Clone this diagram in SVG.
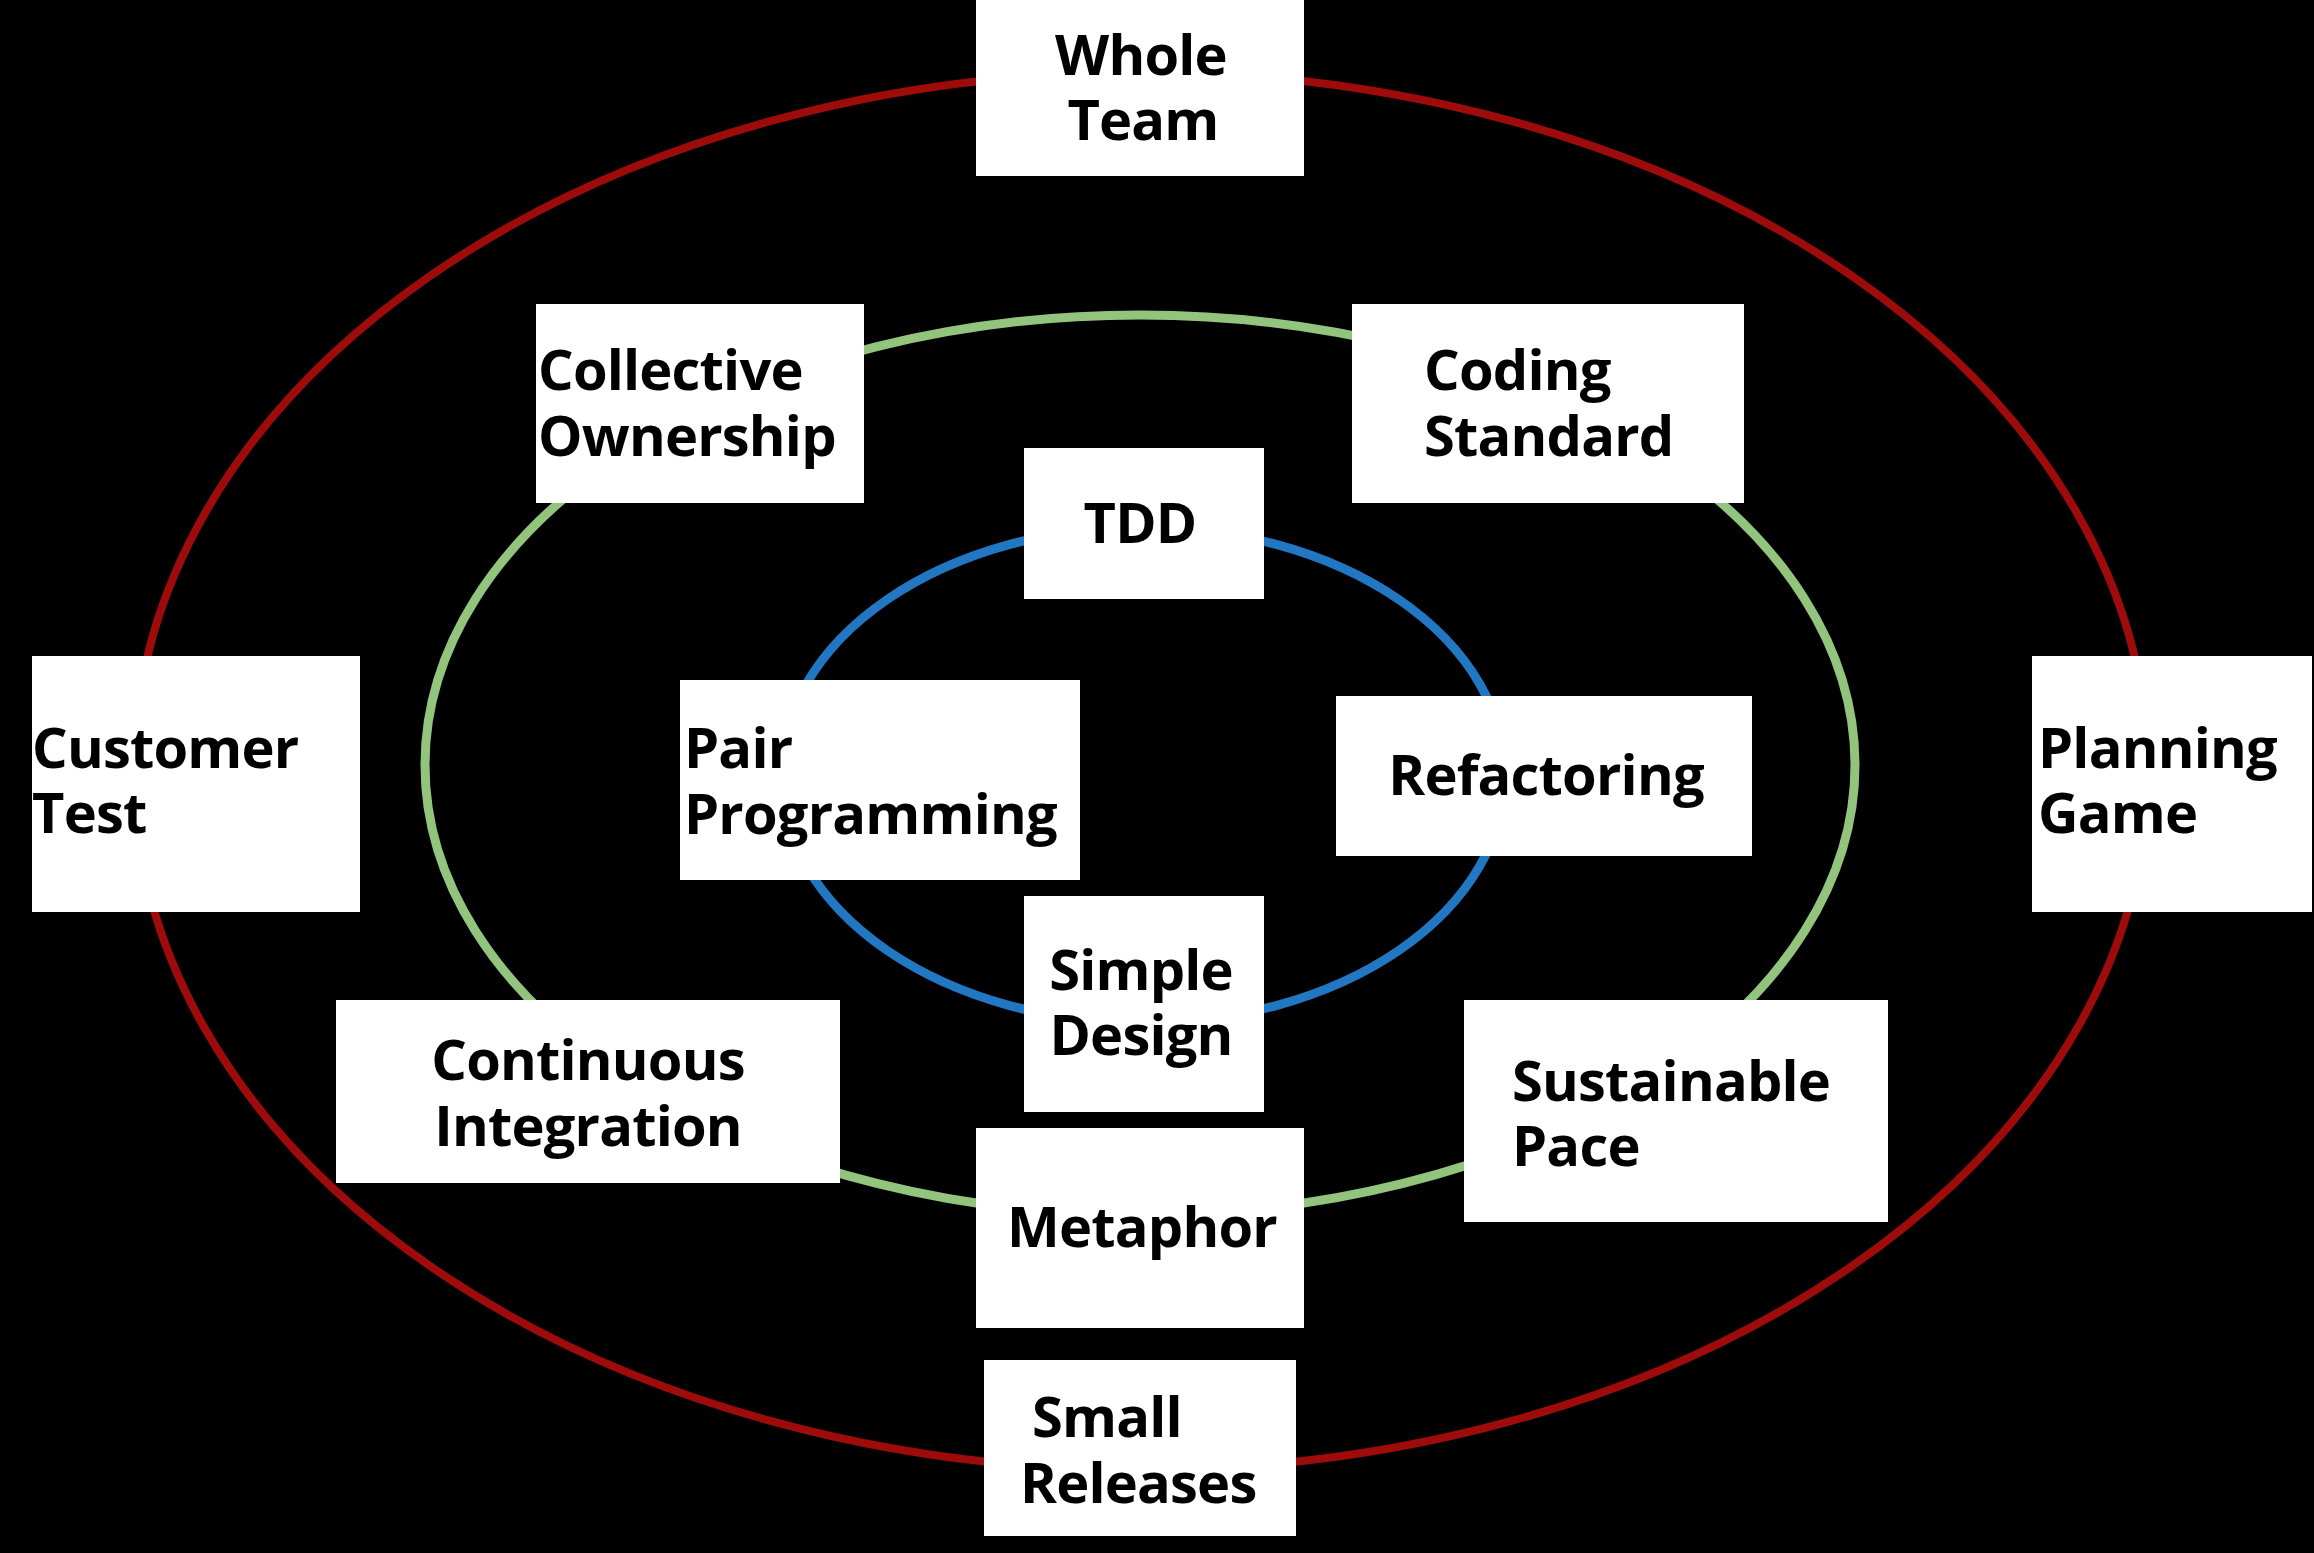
<svg xmlns="http://www.w3.org/2000/svg" width="2314" height="1553" viewBox="0 0 2314 1553">
<style>
.box{fill:#ffffff}
.t{font-family:"Open Sans","DejaVu Sans",sans-serif;font-weight:700;font-size:56px;letter-spacing:-0.8px;fill:#000000}
.c{text-anchor:middle}
.red{fill:none;stroke:#9e0b0b;stroke-width:8}
.green{fill:none;stroke:#93c47d;stroke-width:9}
.blue{fill:none;stroke:#2277c2;stroke-width:9}
</style>
<rect x="0" y="0" width="2314" height="1553" fill="#000000"/>
<g id="connectors">
<ellipse class="red" cx="1141" cy="771" rx="1007" ry="699"/>
<ellipse class="green" cx="1140" cy="765" rx="715" ry="450"/>
<ellipse class="blue" cx="1143" cy="775" rx="362" ry="248"/>
</g>
<g id="whole-team"><rect class="box" x="976" y="0" width="328" height="176"/><text class="t c" x="1141" y="75">Whole</text><text class="t c" x="1143" y="140">Team</text></g>
<g id="collective-ownership"><rect class="box" x="536" y="304" width="328" height="199"/><text class="t" x="538" y="390">Collective</text><text class="t" x="538" y="456">Ownership</text></g>
<g id="coding-standard"><rect class="box" x="1352" y="304" width="392" height="199"/><text class="t" x="1424" y="390">Coding</text><text class="t" x="1424" y="456">Standard</text></g>
<g id="tdd"><rect class="box" x="1024" y="448" width="240" height="151"/><text class="t c" x="1140" y="543">TDD</text></g>
<g id="customer-test"><rect class="box" x="32" y="656" width="328" height="256"/><text class="t" x="32" y="768">Customer</text><text class="t" x="32" y="833">Test</text></g>
<g id="planning-game"><rect class="box" x="2032" y="656" width="280" height="256"/><text class="t" x="2038" y="768">Planning</text><text class="t" x="2038" y="833">Game</text></g>
<g id="pair-programming"><rect class="box" x="680" y="680" width="400" height="200"/><text class="t" x="684" y="768">Pair</text><text class="t" x="684" y="834">Programming</text></g>
<g id="refactoring"><rect class="box" x="1336" y="696" width="416" height="160"/><text class="t c" x="1546" y="795">Refactoring</text></g>
<g id="simple-design"><rect class="box" x="1024" y="896" width="240" height="216"/><text class="t c" x="1141" y="990">Simple</text><text class="t c" x="1141" y="1055">Design</text></g>
<g id="continuous-integration"><rect class="box" x="336" y="1000" width="504" height="183"/><text class="t c" x="588" y="1080">Continuous</text><text class="t c" x="588" y="1146">Integration</text></g>
<g id="sustainable-pace"><rect class="box" x="1464" y="1000" width="424" height="222"/><text class="t" x="1512" y="1101">Sustainable</text><text class="t" x="1512" y="1166">Pace</text></g>
<g id="metaphor"><rect class="box" x="976" y="1128" width="328" height="200"/><text class="t c" x="1142" y="1247">Metaphor</text></g>
<g id="small-releases"><rect class="box" x="984" y="1360" width="312" height="176"/><text class="t" x="1032" y="1437">Small</text><text class="t" x="1020" y="1503">Releases</text></g>
</svg>
